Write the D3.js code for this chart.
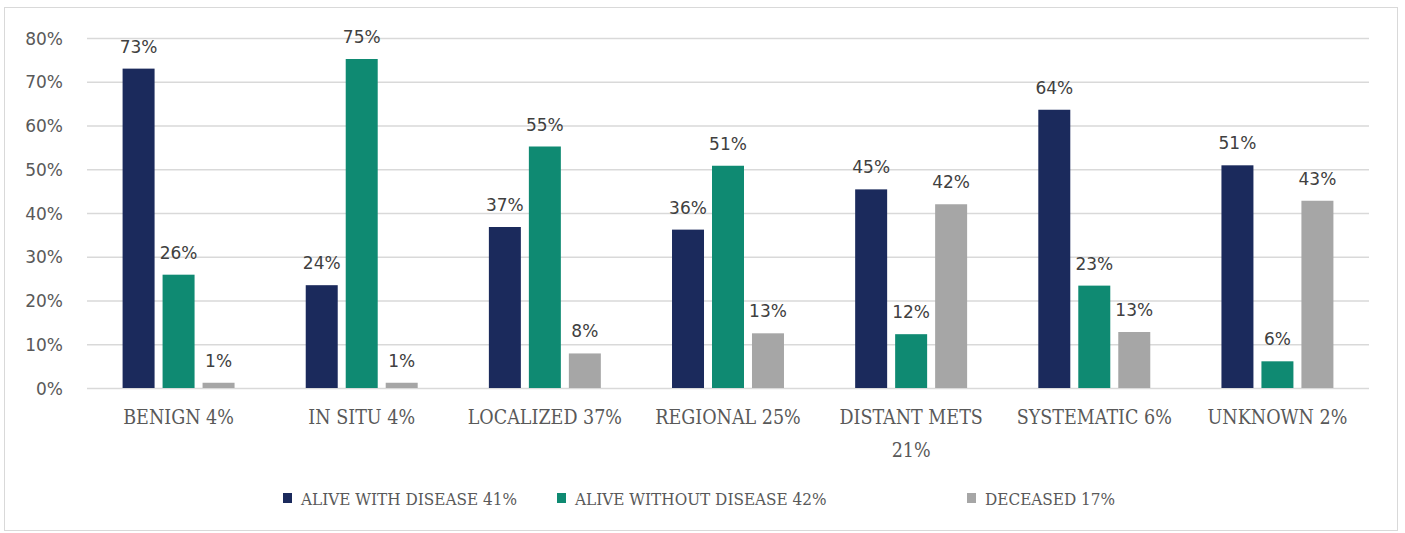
<!DOCTYPE html>
<html><head><meta charset="utf-8">
<script src="https://cdn.jsdelivr.net/npm/d3@7"></script>
<style>
body{margin:0;background:#fff;}
svg{display:block;}
.slab{font-family:"DejaVu Serif";font-stretch:condensed;}
.sans{font-family:"DejaVu Sans",sans-serif;}
</style></head><body>
<svg id="c" width="1405" height="533"></svg>
<script>
const categories = ["BENIGN 4%","IN SITU 4%","LOCALIZED 37%","REGIONAL 25%","DISTANT METS|21%","SYSTEMATIC 6%","UNKNOWN 2%"];
const seriesNames = ["ALIVE WITH DISEASE 41%","ALIVE WITHOUT DISEASE 42%","DECEASED 17%"];
const aliveWith = [73, 23.5, 36.8, 36.2, 45.4, 63.6, 50.9];
const aliveWithout = [25.9, 75.2, 55.2, 50.8, 12.3, 23.4, 6.1];
const deceased = [1.2, 1.2, 7.9, 12.5, 42.0, 12.8, 42.8];
const yTicks = [0,10,20,30,40,50,60,70,80];
const colors = ["#1b2a5c","#0f8a72","#a6a6a6"];

const series = [aliveWith, aliveWithout, deceased];
const svg = d3.select("#c");
svg.append("rect").attr("x",4.5).attr("y",7.5).attr("width",1393).attr("height",523)
  .attr("fill","#fff").attr("stroke","#d9d9d9");

const m = {l:87, r:1369, t:38, b:388};
const x = d3.scaleBand().domain(d3.range(categories.length)).range([m.l,m.r]).paddingInner(0).paddingOuter(0);
const y = d3.scaleLinear().domain([0,80]).range([m.b,m.t]);
const xs = d3.scaleBand().domain(d3.range(3)).range([0,x.bandwidth()]).paddingInner(0.2).paddingOuter(0.89);

// grid
const yAxis = svg.append("g").attr("transform",`translate(${m.l},0)`)
  .call(d3.axisLeft(y).tickValues(yTicks).tickSize(-(m.r-m.l)).tickFormat(d=>d+"%"));
yAxis.select(".domain").remove();
yAxis.selectAll(".tick line").attr("stroke","#d9d9d9").attr("stroke-width",1.3);
yAxis.selectAll(".tick text").attr("class","sans").attr("x",-24).attr("fill","#595959")
  .attr("dy","0.36em").style("font-size","17px");

// bars
series.forEach((vals,si)=>{
  const g = svg.append("g");
  g.selectAll("rect").data(vals).join("rect")
    .attr("x",(d,i)=>x(i)+xs(si)).attr("width",xs.bandwidth())
    .attr("y",d=>y(d)).attr("height",d=>y(0)-y(d)).attr("fill",colors[si]);
  g.selectAll("text").data(vals).join("text").attr("class","sans")
    .attr("x",(d,i)=>x(i)+xs(si)+xs.bandwidth()/2).attr("y",d=>y(d)-16)
    .attr("text-anchor","middle").attr("fill","#404040").style("font-size","17px")
    .text(d=>Math.round(d)+"%");
});

// x labels
const xl = svg.append("g");
categories.forEach((c,i)=>{
  const t = xl.append("text").attr("class","slab").attr("text-anchor","middle")
    .attr("fill","#595959").style("font-size","19.5px");
  c.split("|").forEach((line,li)=>{
    t.append("tspan").attr("x",x(i)+x.bandwidth()/2).attr("y",424+li*33).text(line);
  });
});

// legend
const lx = [283,557,967];
seriesNames.forEach((n,i)=>{
  svg.append("rect").attr("x",lx[i]).attr("y",493).attr("width",9).attr("height",10).attr("fill",colors[i]);
  svg.append("text").attr("class","slab").attr("x",lx[i]+18).attr("y",505)
    .attr("fill","#595959").style("font-size","17px").text(n);
});
</script>
</body></html>
